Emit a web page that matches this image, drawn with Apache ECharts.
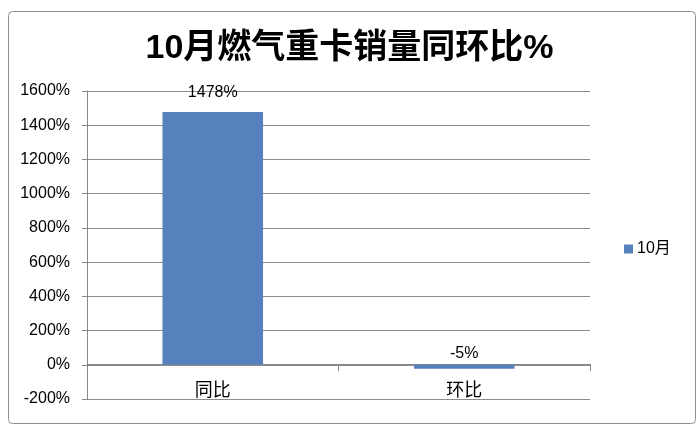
<!DOCTYPE html>
<html><head><meta charset="utf-8">
<script src="https://cdn.jsdelivr.net/npm/echarts@6/dist/echarts.min.js"></script>
<style>html,body{margin:0;padding:0;background:#fff}#c{width:699px;height:428px}</style>
</head><body><div id="c"></div>
<script>
var categories = ['同比', '环比'];
var seriesName = '10月';
var values = [1478, -5];
var yMin = -200, yMax = 1600, yStep = 200;

var FONT = '"Liberation Sans", "Noto Sans CJK SC", sans-serif';
var chart = echarts.init(document.getElementById('c'));
chart.setOption({
  animation: false,
  backgroundColor: '#fff',
  graphic: [{
    type: 'rect', left: 6, top: 9,
    shape: { width: 687, height: 412, r: 4 },
    style: { fill: 'none', stroke: '#8f8f8f', lineWidth: 1 }, silent: true, z: -1
  }],
  title: {
    text: '10月燃气重卡销量同环比%', left: 'center', top: 27,
    textStyle: { fontFamily: FONT, fontSize: 34, fontWeight: 'bold', color: '#000' }
  },
  legend: {
    left: 619, top: 236, itemWidth: 9, itemHeight: 9, icon: 'rect', itemGap: 4,
    textStyle: { fontFamily: FONT, fontSize: 16, color: '#000', padding: [0, 0, 0, -1] },
    data: [seriesName]
  },
  grid: { left: 87, right: 109, top: 91, bottom: 29, containLabel: false },
  xAxis: {
    type: 'category', data: categories, offset: -35,
    axisLine: { onZero: false, lineStyle: { color: '#888', width: 1 } },
    axisTick: { show: true, length: 7, lineStyle: { color: '#888' } },
    axisLabel: { margin: 18, fontFamily: FONT, fontSize: 18, color: '#000' }
  },
  yAxis: {
    type: 'value', min: yMin, max: yMax, interval: yStep,
    axisLine: { show: true, lineStyle: { color: '#888', width: 1 } },
    axisTick: { show: true, length: 5, lineStyle: { color: '#888' } },
    splitLine: { lineStyle: { color: '#8c8c8c', width: 1 } },
    axisLabel: { margin: 17, fontFamily: FONT, fontSize: 16, color: '#000',
      formatter: function (v) { return v + '%'; } }
  },
  series: [{
    name: seriesName, type: 'bar', barCategoryGap: '60%', barMinHeight: 4,
    data: values.map(function (v, i) {
      return { value: v, label: { distance: i === 0 ? 11 : 3 } };
    }),
    itemStyle: { color: '#5681bd' },
    label: { show: true, position: 'top', fontFamily: FONT, fontSize: 16, color: '#000',
      formatter: function (p) { return p.value + '%'; } }
  }]
});
</script></body></html>
